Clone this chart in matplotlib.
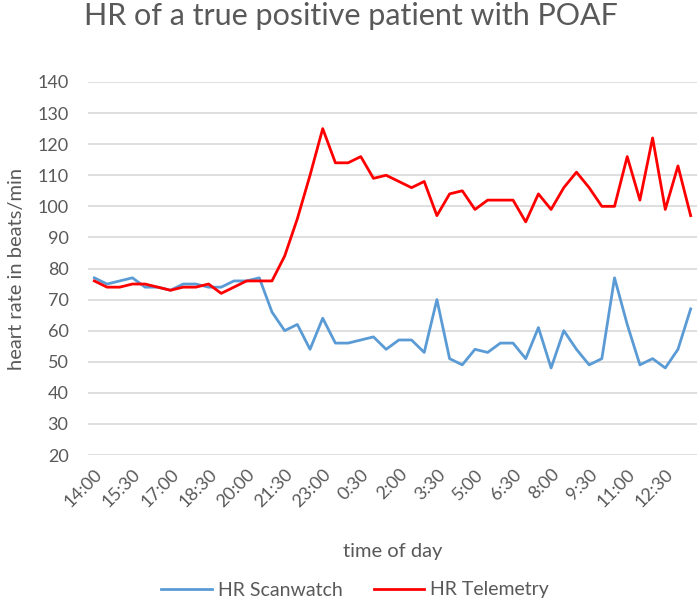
import matplotlib.pyplot as plt

# время с 14:00, шаг 30 минут (48 точек)
times = ['14:00', '14:30', '15:00', '15:30', '16:00', '16:30', '17:00', '17:30',
         '18:00', '18:30', '19:00', '19:30', '20:00', '20:30', '21:00', '21:30',
         '22:00', '22:30', '23:00', '23:30', '0:00', '0:30', '1:00', '1:30',
         '2:00', '2:30', '3:00', '3:30', '4:00', '4:30', '5:00', '5:30',
         '6:00', '6:30', '7:00', '7:30', '8:00', '8:30', '9:00', '9:30',
         '10:00', '10:30', '11:00', '11:30', '12:00', '12:30', '13:00', '13:30']

hr_scanwatch = [77, 75, 76, 77, 74, 74, 73, 75, 75, 74, 74, 76, 76, 77, 66, 60,
                62, 54, 64, 56, 56, 57, 58, 54, 57, 57, 53, 70, 51, 49, 54, 53,
                56, 56, 51, 61, 48, 60, 54, 49, 51, 77, 62, 49, 51, 48, 54, 67]

hr_telemetry = [76, 74, 74, 75, 75, 74, 73, 74, 74, 75, 72, 74, 76, 76, 76, 84,
                96, 110, 125, 114, 114, 116, 109, 110, 108, 106, 108, 97, 104, 105, 99, 102,
                102, 102, 95, 104, 99, 106, 111, 106, 100, 100, 116, 102, 122, 99, 113, 97]

grey = '#595959'
plt.rcParams['font.family'] = ['Lato', 'DejaVu Sans']

fig = plt.figure(figsize=(7, 6.06), dpi=100)
ax = fig.add_axes([88 / 700, 1 - 455 / 606, 609 / 700, 373 / 606])

x = list(range(len(times)))
ax.plot(x, hr_scanwatch, color='#5B9BD5', lw=2.0, label='HR Scanwatch')
ax.plot(x, hr_telemetry, color='#FF0000', lw=2.0, label='HR Telemetry')

ax.set_xlim(-0.5, len(times) - 0.5)
ax.set_ylim(20, 140)
ax.set_yticks(range(20, 141, 10))
ax.set_xticks(x[::3])
ax.set_xticklabels(times[::3], rotation=45, ha='right', rotation_mode='anchor')

ax.grid(axis='y', color='#D9D9D9', lw=1.2)
ax.set_axisbelow(True)
for s in ax.spines.values():
    s.set_visible(False)
ax.tick_params(length=0, colors=grey, labelsize=13)
ax.tick_params(axis='y', pad=14)
ax.tick_params(axis='x', pad=8)

ax.set_ylabel('heart rate in beats/min', fontsize=14.5, color=grey, labelpad=9)
ax.set_xlabel('time of day', fontsize=14.5, color=grey, labelpad=24)

fig.text(351 / 700, 1 - 25 / 606, 'HR of a true positive patient with POAF',
         fontsize=22, color=grey, ha='center', va='baseline')

fig.legend(loc='center', bbox_to_anchor=(355 / 700, 1 - 590 / 606), ncol=2,
           frameon=False, fontsize=14, labelcolor=grey, handlelength=2.6,
           columnspacing=1.6, handletextpad=0.3)

fig.savefig('out.png', dpi=100)
